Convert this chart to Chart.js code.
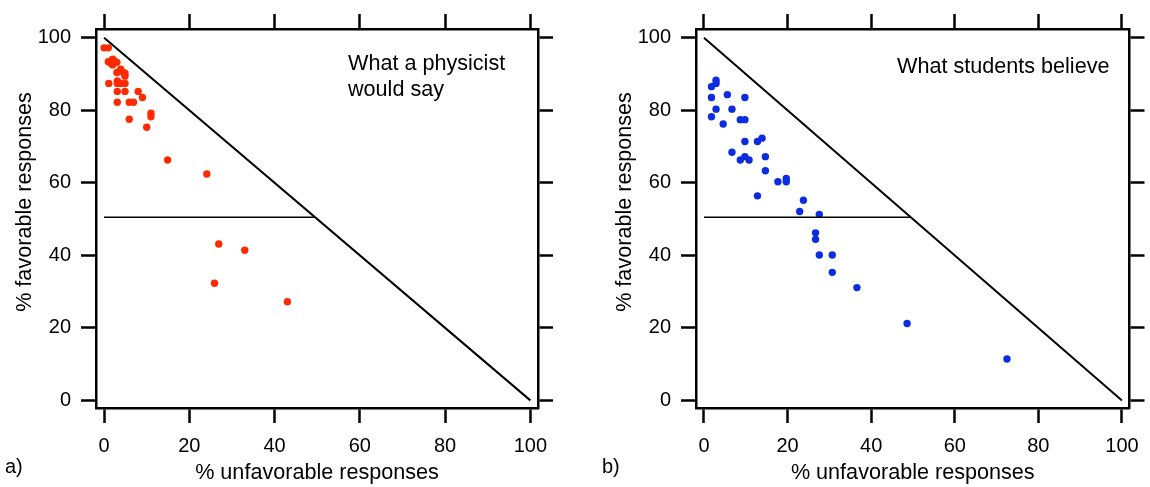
<!DOCTYPE html>
<html>
<head>
<meta charset="utf-8">
<script src="https://cdn.jsdelivr.net/npm/chart.js@4.4.1/dist/chart.umd.min.js"></script>
<style>
  html, body { margin: 0; padding: 0; background: #fff; }
  #wrap { position: relative; width: 1150px; height: 487px; overflow: hidden; }
  .panel { position: absolute; top: 0; }
</style>
</head>
<body>
<div id="wrap">
  <div class="panel" style="left:0;width:575px;height:487px"><canvas id="chartA"></canvas></div>
  <div class="panel" style="left:600px;width:550px;height:487px"><canvas id="chartB"></canvas></div>
</div>
<script>
// tick values shared by both panels
const tickValues = [0, 20, 40, 60, 80, 100];
const xTitle = '% unfavorable responses';
const yTitle = '% favorable responses';

// panel a) - what a physicist would say (x = % unfavorable, y = % favorable)
const physicistX = [0, 1, 1, 2, 2, 3, 2.5, 1.5, 1.1, 3.9, 3, 4.5, 4.9, 4.9, 3.1, 3.1, 3.9, 4.9,
  3.1, 4.9, 8, 9, 3.1, 5.9, 6.9, 11, 11, 5.9, 10, 14.9, 24.1, 26.9, 33, 25.9, 43];
const physicistY = [97.2, 97.2, 93.4, 94.1, 92.5, 93.2, 93.5, 93, 87.4, 91.3, 90.4, 90.4, 90.2, 89.4, 88.1, 87.4, 87.4, 87.4,
  85.2, 85.2, 85.2, 83.5, 82.2, 82.2, 82.2, 79.2, 78.2, 77.5, 75.3, 66.3, 62.4, 43.1, 41.4, 32.3, 27.2];

// panel b) - what students believe
const studentX = [2.9, 2.9, 1.8, 1.8, 5.6, 9.8, 2.9, 6.7, 1.8, 4.6, 8.7, 9.8, 9.8, 12.8, 13.9, 6.7,
  8.7, 9.8, 10.8, 14.7, 14.7, 17.7, 19.7, 19.7, 12.8, 23.8, 22.9, 27.6, 26.7, 26.7, 27.6, 30.7,
  30.7, 36.6, 48.6, 72.5];
const studentY = [88.3, 87.4, 86.5, 83.5, 84.3, 83.5, 80.3, 80.3, 78.2, 76.2, 77.4, 77.4, 71.4, 71.4, 72.3, 68.4,
  66.3, 67.2, 66.3, 67.2, 63.3, 60.3, 61.2, 60.3, 56.4, 55.2, 52.1, 51.3, 46.2, 44.4, 40.1, 40.1,
  35.3, 31.1, 21.2, 11.4];

// reference lines
const diagonalX = [0, 100];
const diagonalY = [100, 0];
const halfLineX = [0, 49.5];
const halfLineY = [50.5, 50.5];

const FONT = "'Liberation Sans', Arial, Helvetica, sans-serif";

const toPoints = (xs, ys) => xs.map((x, i) => ({ x, y: ys[i] }));

// note inside the box, the a)/b) letter and the y title (sits a bit above centre in the original)
const textPlugin = {
  id: 'panelText',
  afterDraw(chart, args, opts) {
    const ctx = chart.ctx;
    ctx.save();
    ctx.fillStyle = '#000';
    ctx.font = '21.6px ' + FONT;
    ctx.textBaseline = 'alphabetic';
    opts.note.forEach((line, i) => ctx.fillText(line, opts.noteX, opts.noteY + i * 26));
    ctx.font = '20px ' + FONT;
    ctx.fillText(opts.letter, opts.letterX, 473);

    ctx.translate(25, 202);
    ctx.rotate(-Math.PI / 2);
    ctx.font = '21.6px ' + FONT;
    ctx.textAlign = 'center';
    ctx.textBaseline = 'middle';
    ctx.fillText(yTitle, 0, 0);
    ctx.restore();
  }
};

function makeScale(position, size, showLabels) {
  const horizontal = position === 'top' || position === 'bottom';
  return {
    type: 'linear',
    position,
    min: horizontal ? -1.9 : -2.1,
    max: horizontal ? 101.8 : 102.4,
    afterBuildTicks: s => { s.ticks = tickValues.map(v => ({ value: v })); },
    afterFit: s => { if (horizontal) s.height = size; else s.width = size; },
    grid: { drawOnChartArea: false, drawTicks: true, tickLength: 15, tickWidth: 2.5, color: '#000' },
    border: { display: true, width: 2.5, color: '#000' },
    ticks: {
      display: showLabels,
      color: '#000',
      padding: horizontal ? 11 : 10,
      maxRotation: 0,
      autoSkip: false,
      font: { family: FONT, size: 20 }
    },
    title: {
      display: showLabels && horizontal,
      text: xTitle,
      color: '#000',
      font: { family: FONT, size: 21.6 },
      padding: { top: 0, bottom: 1 }
    }
  };
}

function makePanel(id, xs, ys, color, width, note, noteX, noteY, letter, letterX) {
  return new Chart(document.getElementById(id), {
    data: {
      datasets: [
        {
          type: 'line',
          data: toPoints(diagonalX, diagonalY),
          borderColor: '#000',
          borderWidth: 2,
          pointRadius: 0
        },
        {
          type: 'line',
          data: toPoints(halfLineX, halfLineY),
          borderColor: '#000',
          borderWidth: 1.5,
          pointRadius: 0
        },
        {
          type: 'scatter',
          data: toPoints(xs, ys),
          backgroundColor: color,
          borderWidth: 0,
          pointRadius: 3.7
        }
      ]
    },
    options: {
      responsive: true,
      maintainAspectRatio: false,
      animation: false,
      layout: { padding: 0 },
      plugins: {
        legend: { display: false },
        tooltip: { enabled: false },
        panelText: { note, noteX, noteY, letter, letterX }
      },
      scales: {
        x: makeScale('bottom', 79, true),
        x2: makeScale('top', 29, false),
        y: makeScale('left', 96, true),
        y2: makeScale('right', width - 538, false)
      }
    },
    plugins: [textPlugin]
  });
}

makePanel('chartA', physicistX, physicistY, 'rgb(255,42,0)', 575,
  ['What a physicist', 'would say'], 348, 70, 'a)', 5);
makePanel('chartB', studentX, studentY, 'rgb(12,44,224)', 550,
  ['What students believe'], 297, 73, 'b)', 2);
</script>
</body>
</html>
